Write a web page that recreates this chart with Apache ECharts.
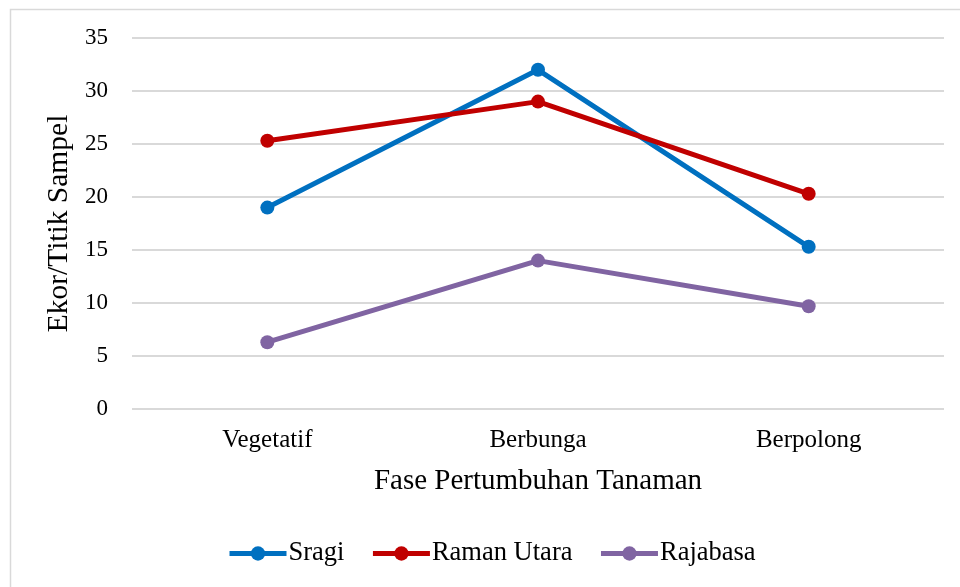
<!DOCTYPE html>
<html><head><meta charset="utf-8">
<script src="https://cdn.jsdelivr.net/npm/echarts@6/dist/echarts.min.js"></script>
<style>html,body{margin:0;padding:0;background:#fff}#c{width:960px;height:587px}</style>
</head><body><div id="c"></div>
<script>
const categories = ['Vegetatif', 'Berbunga', 'Berpolong'];
const sragi = [19, 32, 15.3];
const ramanUtara = [25.3, 29, 20.3];
const rajabasa = [6.3, 14, 9.7];
const seriesNames = ['Sragi', 'Raman Utara', 'Rajabasa'];
const colors = ['#0070C0', '#C00000', '#8064A2'];
const font = 'Liberation Serif';

const chart = echarts.init(document.getElementById('c'));
const mk = (name, data, color) => ({
  name, type: 'line', data, color,
  symbol: 'circle', symbolSize: 14,
  lineStyle: { width: 5, color },
  itemStyle: { color },
  z: 3
});
chart.setOption({
  animation: false,
  graphic: [{ type: 'rect', shape: { x: 10.5, y: 9.5, width: 960, height: 600 }, style: { fill: 'none', stroke: '#d9d9d9', lineWidth: 1.5 } }],
  grid: { left: 132, right: 16, top: 38, bottom: 178 },
  legend: {
    bottom: 15, left: 222, itemWidth: 57, itemHeight: 18, itemGap: 26,
    lineStyle: { width: 5 },
    textStyle: { fontFamily: font, fontSize: 26.5, color: '#000', padding: [0, 0, 0, -3] },
    data: seriesNames
  },
  xAxis: {
    type: 'category', data: categories, boundaryGap: true,
    axisLine: { show: false }, axisTick: { show: false },
    axisLabel: { fontFamily: font, fontSize: 25, color: '#000', margin: 19 },
    name: 'Fase Pertumbuhan Tanaman', nameLocation: 'middle', nameGap: 58,
    nameTextStyle: { fontFamily: font, fontSize: 29, color: '#000' }
  },
  yAxis: {
    type: 'value', min: 0, max: 35, interval: 5,
    axisLine: { show: false }, axisTick: { show: false },
    axisLabel: { fontFamily: font, fontSize: 23, color: '#000', margin: 24 },
    splitLine: { lineStyle: { color: '#d9d9d9', width: 2 } },
    name: 'Ekor/Titik Sampel', nameLocation: 'middle', nameGap: 55,
    nameTextStyle: { fontFamily: font, fontSize: 29.5, color: '#000' }
  },
  series: [mk(seriesNames[0], sragi, colors[0]), mk(seriesNames[1], ramanUtara, colors[1]), mk(seriesNames[2], rajabasa, colors[2])]
});
</script></body></html>
